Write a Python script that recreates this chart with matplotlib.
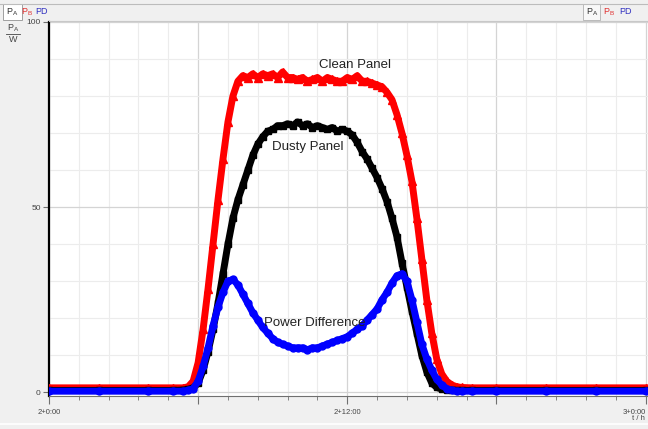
import matplotlib
matplotlib.use("Agg")
import matplotlib.pyplot as plt
from matplotlib.patches import Rectangle
from matplotlib.lines import Line2D
import numpy as np

plt.rcParams['font.family'] = ['Liberation Sans', 'DejaVu Sans']

# time in hours after 2+0:00
t = [0.0, 2.0, 4.0, 5.0, 5.4, 5.6, 5.8, 6.0, 6.2, 6.4, 6.6, 6.8, 7.0, 7.2, 7.4, 7.6, 7.8,
     8.0, 8.2, 8.4, 8.6, 8.8, 9.0, 9.2, 9.4, 9.6, 9.8, 10.0, 10.2, 10.4, 10.6, 10.8,
     11.0, 11.2, 11.4, 11.6, 11.8, 12.0, 12.2, 12.4, 12.6, 12.8, 13.0, 13.2, 13.4,
     13.6, 13.8, 14.0, 14.2, 14.4, 14.6, 14.8, 15.0, 15.2, 15.4, 15.6, 15.8, 16.0,
     16.2, 16.4, 16.6, 17.0, 18.0, 20.0, 22.0, 24.0]

clean = [1.2, 1.2, 1.2, 1.2, 1.2, 1.5, 3, 8, 17, 28, 40, 52, 63, 73, 80, 84, 85.5,
         85, 86, 85, 86, 85.5, 86, 85, 86.5, 85, 85, 84.5, 85, 84, 84.5, 85,
         84, 85, 84.5, 84, 84, 85, 84.5, 85.5, 84, 84, 83.5, 83, 82.5,
         81, 79, 75, 70, 64, 57, 47, 36, 25, 16, 9, 5, 3,
         2, 1.5, 1.3, 1.2, 1.2, 1.2, 1.2, 1.2]

dusty = [0.5, 0.5, 0.5, 0.5, 0.6, 0.8, 1.2, 2.5, 6, 11, 17, 24, 32, 40, 47, 52, 56,
         60, 64, 67, 69, 70.5, 71, 72, 72, 72.5, 72, 73, 72, 72.5, 71.5, 72,
         71.5, 71, 71.5, 70.5, 71, 70.5, 69.5, 67.5, 65, 63, 60.5, 58, 55,
         51.5, 47, 42, 35, 28.5, 22, 16, 10, 5.5, 2.5, 1.3, 0.9, 0.7,
         0.6, 0.5, 0.5, 0.5, 0.5, 0.5, 0.5, 0.5]

diff = [0.3, 0.3, 0.3, 0.3, 0.3, 0.5, 1, 3, 7, 12, 18, 23, 27, 30, 30.5, 29, 26.5,
        24, 21.5, 19.5, 17.5, 16, 14.5, 13.5, 13, 12.5, 12, 12, 12, 11.5, 12, 12,
        12.5, 13, 13.5, 14, 14.5, 15, 16, 17, 18, 19.5, 21, 22.5, 25,
        27, 29.5, 31.5, 32, 30, 25, 19, 13, 9, 6, 3.5, 2, 1,
        0.5, 0.3, 0.3, 0.3, 0.3, 0.3, 0.3, 0.3]

x_ticklabels = ['2+0:00', '', '2+12:00', '', '3+0:00']

W, H = 648, 429
fig = plt.figure(figsize=(W / 100, H / 100), dpi=100)
fig.patch.set_facecolor('#f0f0f0')

ax = fig.add_axes([49 / W, (H - 396) / H, (W - 49) / W, (396 - 22) / H])
ax.set_facecolor('white')

ax.plot(t, clean, color='#ff0000', lw=5, marker='^', ms=5.5, zorder=3)
ax.plot(t, dusty, color='black', lw=5, marker='s', ms=4.5, zorder=4)
ax.plot(t, diff, color='#0000ff', lw=5, marker='o', ms=5, zorder=5)

ax.set_xlim(0, 24.1)
ax.set_ylim(-1, 100)

ax.set_xticks([0, 6, 12, 18, 24])
ax.set_xticks(np.arange(0, 24.1, 1.2), minor=True)
ax.set_xticklabels(x_ticklabels)
ax.get_xticklabels()[-1].set_ha('right')
ax.set_yticks([0, 50, 100])
ax.set_yticks(np.arange(0, 101, 10), minor=True)
ax.set_yticklabels(['0', '50', '100'])

ax.grid(which='minor', color='#ececec', lw=0.8, zorder=0)
ax.grid(which='major', color='#d4d4d4', lw=0.9, zorder=0)

ax.tick_params(axis='x', which='major', length=6, color='#707070', labelsize=5.5,
               labelcolor='#444444', pad=3)
ax.tick_params(axis='x', which='minor', length=3, color='#707070')
ax.tick_params(axis='y', which='major', length=4, color='#707070', labelsize=6,
               labelcolor='#444444', pad=2)
ax.tick_params(axis='y', which='minor', length=0)

for s in ['top', 'right']:
    ax.spines[s].set_visible(False)
ax.spines['left'].set_color('black')
ax.spines['left'].set_linewidth(1.6)
ax.spines['bottom'].set_color('#707070')
ax.spines['bottom'].set_linewidth(0.8)

ax.text(12.3, 88.5, 'Clean Panel', fontsize=9.5, ha='center', va='center', color='#222222', zorder=6)
ax.text(10.4, 66.3, 'Dusty Panel', fontsize=9.5, ha='center', va='center', color='#222222', zorder=6)
ax.text(10.7, 18.8, 'Power Difference', fontsize=9.5, ha='center', va='center', color='#222222', zorder=6)

# toolbar strip and tabs
fig.add_artist(Line2D([0, 1], [1 - 4 / H, 1 - 4 / H], color='#bcbcbc', lw=0.8))
fig.add_artist(Line2D([49 / W, 1], [1 - 21 / H, 1 - 21 / H], color='#c8c8c8', lw=0.8))
fig.add_artist(Rectangle((3 / W, 1 - 20 / H), 19 / W, 16 / H, facecolor='white',
                         edgecolor='#a0a0a0', lw=0.7))
tabs = [('P$_\\mathregular{A}$', '#333333'), ('P$_\\mathregular{B}$', '#e03030'), ('PD', '#3030c0')]
for i, (lab, col) in enumerate(tabs):
    fig.text((12 + i * 14.5) / W, 1 - 12 / H, lab, fontsize=6.5, color=col, ha='center', va='center')
    fig.text((592 + i * 17) / W, 1 - 12 / H, lab, fontsize=6.5, color=col, ha='center', va='center')
fig.add_artist(Rectangle((583 / W, 1 - 20 / H), 17 / W, 16 / H, facecolor='#f8f8f8',
                         edgecolor='#b0b0b0', lw=0.6))

# y unit label
fig.text(13 / W, 1 - 28 / H, 'P$_\\mathregular{A}$', fontsize=6.5, color='#444444', ha='center', va='center')
fig.add_artist(Line2D([6 / W, 20 / W], [1 - 34 / H, 1 - 34 / H], color='#444444', lw=0.6))
fig.text(13 / W, 1 - 40 / H, 'W', fontsize=6.5, color='#444444', ha='center', va='center')

fig.text(638 / W, 1 - 419 / H, 't / h', fontsize=5.5, color='#444444', ha='center', va='center')
fig.add_artist(Line2D([0, 1], [1 - 424 / H, 1 - 424 / H], color='white', lw=1.2))

fig.savefig('out.png', dpi=100, facecolor=fig.get_facecolor())
